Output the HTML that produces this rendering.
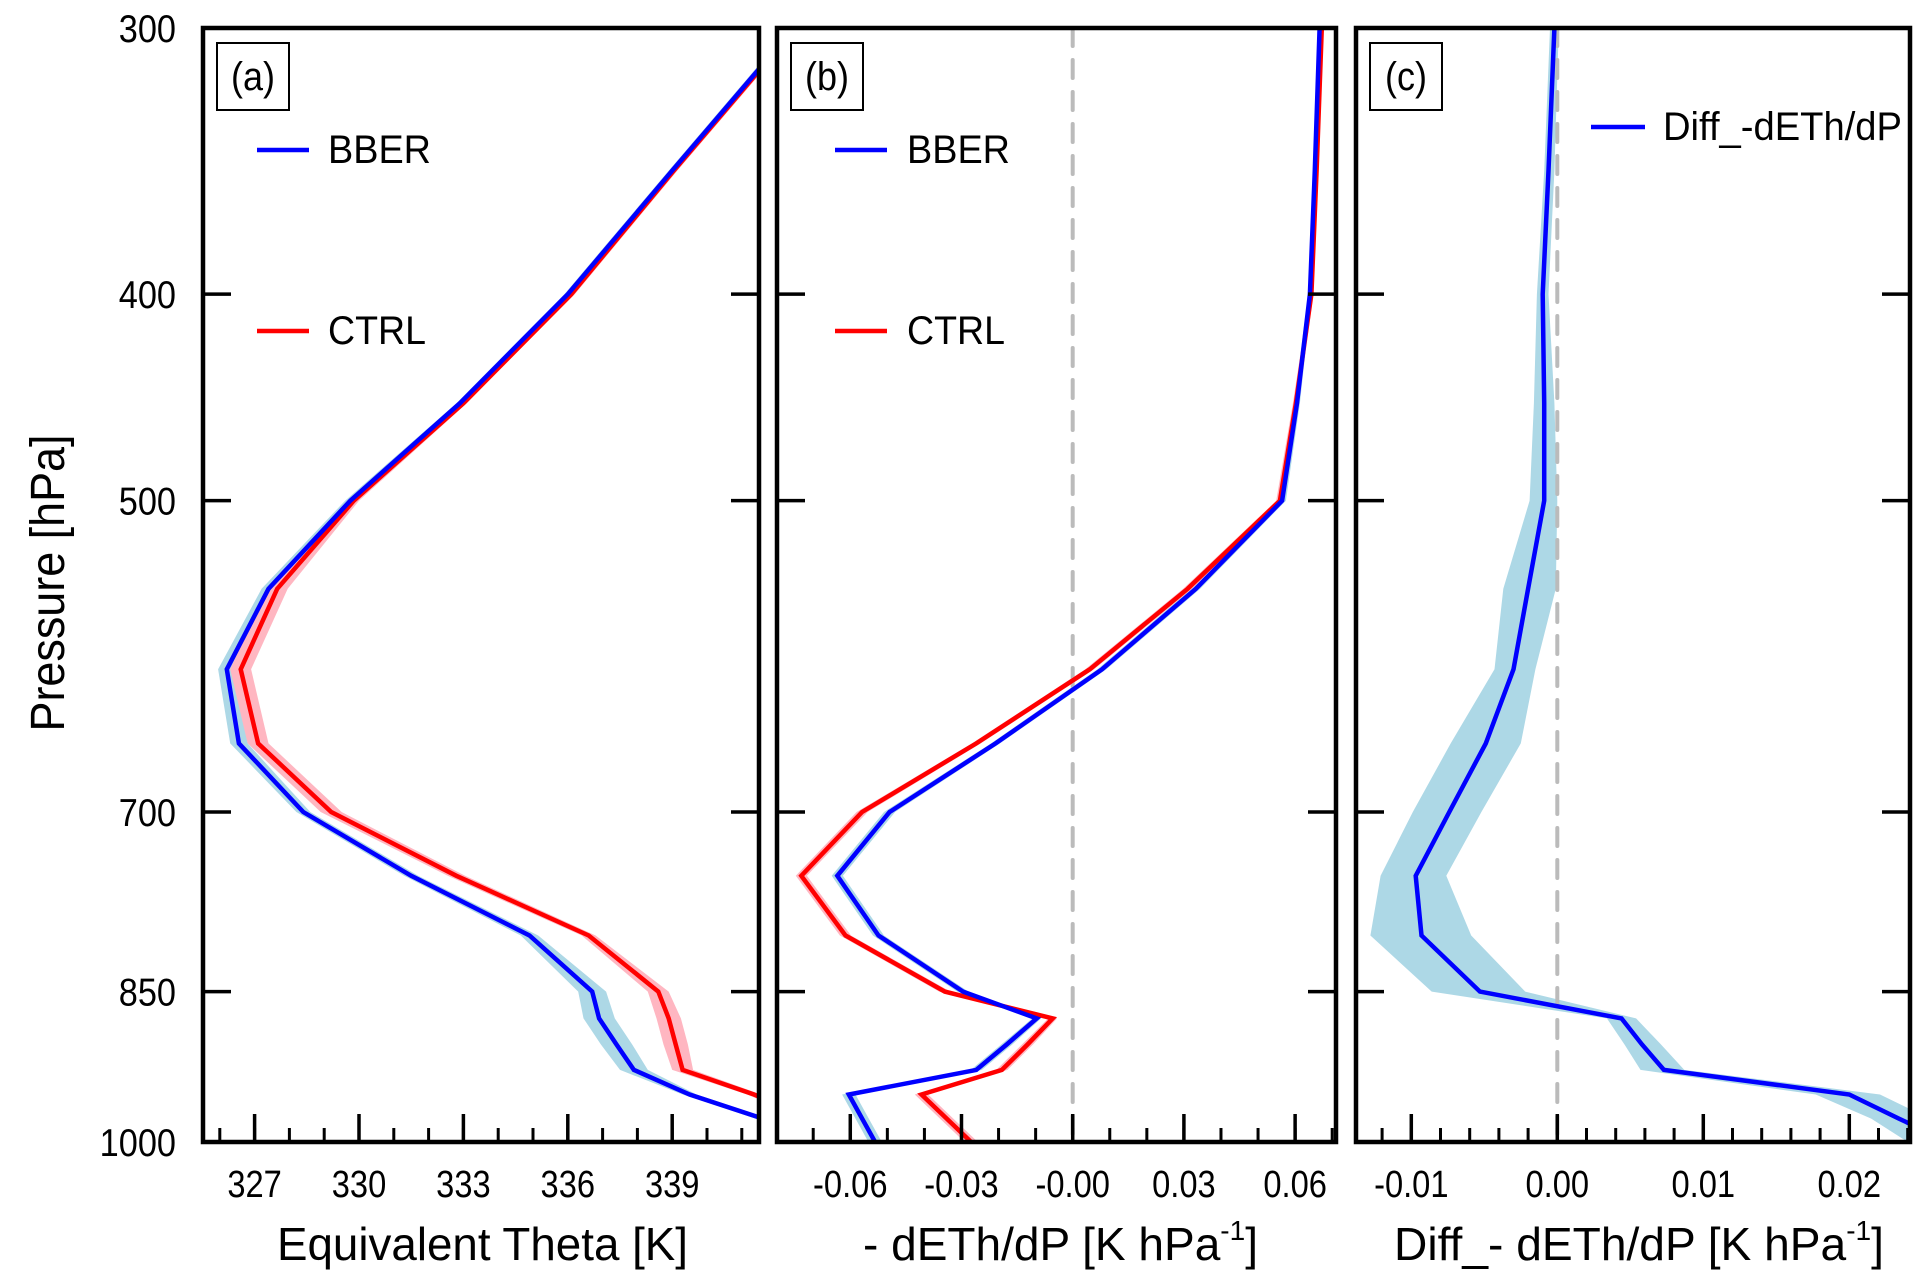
<!DOCTYPE html>
<html><head><meta charset="utf-8">
<style>
html,body{margin:0;padding:0;background:#fff;}
svg{display:block;font-family:"Liberation Sans",Arial,sans-serif;}
</style></head>
<body>
<svg id="fig" xmlns="http://www.w3.org/2000/svg" width="1931" height="1287" viewBox="0 0 1931 1287">
<rect width="1931" height="1287" fill="#fff"/>
</svg>
<script>
// ---- data ----
const levels = [300,350,400,450,500,550,600,650,700,750,800,850,875,900,925,950,975,1000];
const pTicks = [300,400,500,700,850,1000];

const bberTheta = [342.5,339.0,336.0,332.9,329.75,327.4,326.2,326.55,328.4,331.5,334.9,336.7,336.9,337.4,337.9,339.5,341.6,343.6];
const ctrlTheta = [342.55,339.05,336.1,333.0,329.85,327.65,326.6,327.1,329.2,332.8,336.6,338.6,338.9,339.1,339.3,341.35,343.0,344.6];
const bberThetaSpread = [0.1,0.1,0.1,0.1,0.15,0.2,0.25,0.25,0.2,0.2,0.25,0.4,0.45,0.45,0.4,0.2,0.2,0.2];
const ctrlThetaSpread = [0.1,0.1,0.1,0.1,0.15,0.3,0.3,0.3,0.3,0.25,0.2,0.3,0.35,0.35,0.3,0.2,0.2,0.2];
const thetaTicks = [327,330,333,336,339];

const bberGrad = [0.0666,0.0653,0.064,0.0605,0.0565,0.0332,0.0079,-0.0208,-0.0494,-0.0635,-0.0524,-0.0296,-0.0097,-0.0178,-0.026,-0.0604,-0.0568,-0.0533];
const ctrlGrad = [0.0672,0.0658,0.0644,0.0602,0.0559,0.031,0.0046,-0.026,-0.0568,-0.0732,-0.0613,-0.0345,-0.0054,-0.0122,-0.0191,-0.0408,-0.034,-0.0274];
const gradSpread = [0.0005,0.0005,0.0005,0.0008,0.001,0.0012,0.0012,0.0012,0.0015,0.0015,0.0015,0.0015,0.0012,0.0015,0.0015,0.0018,0.0018,0.0018];
const gradTicks = [-0.06,-0.03,0.0,0.03,0.06];
const gradTickLabels = ["-0.06","-0.03","-0.00","0.03","0.06"];

const diffGrad = [-0.0002,-0.0006,-0.001,-0.0009,-0.0009,-0.002,-0.003,-0.0049,-0.0074,-0.0097,-0.0093,-0.0053,0.0044,0.0058,0.0073,0.02,0.0234,0.0268];
const diffLow  = [-0.0005,-0.0009,-0.0014,-0.0016,-0.0019,-0.0037,-0.0043,-0.0073,-0.0099,-0.0121,-0.0128,-0.0086,0.0034,0.0046,0.0057,0.0177,0.0215,0.024];
const diffHigh = [0.0001,-0.0002,-0.0006,-0.0002,0.0,-0.0001,-0.0015,-0.0025,-0.0052,-0.0076,-0.0059,-0.0022,0.0054,0.0071,0.0087,0.0221,0.0255,0.0285];
const diffTicks = [-0.01,0.0,0.01,0.02];
const diffTickLabels = ["-0.01","0.00","0.01","0.02"];

// ---- layout ----
const NS="http://www.w3.org/2000/svg";
const svg=document.getElementById('fig');
const TOP=28, BOT=1142;
const yScale = p => TOP + (BOT-TOP)*Math.log(p/300)/Math.log(1000/300);
function el(tag, attrs, parent){
  const e=document.createElementNS(NS,tag);
  for(const k in attrs) e.setAttribute(k,attrs[k]);
  (parent||svg).appendChild(e); return e;
}
function txt(str,x,y,size,anchor,sx,parent){
  const g=el('g',{transform:`translate(${x},${y}) scale(${sx},1)`},parent);
  const t=el('text',{x:0,y:0,'font-size':size,'text-anchor':anchor,fill:'#000'},g);
  t.textContent=str; return t;
}
const panels=[
  {id:'a',x0:203,x1:759,xs:v=>254.6+(v-327)*34.8},
  {id:'b',x0:777,x1:1336,xs:v=>1072.7+v*3707},
  {id:'c',x0:1356,x1:1910,xs:v=>1557.3+v*14600}
];
panels.forEach(P=>{
  const g=el('g',{});
  
  
  const cp=el('clipPath',{id:'clip'+P.id},g);
  el('rect',{x:P.x0,y:TOP,width:P.x1-P.x0,height:BOT-TOP},cp);
  P.g=g;
  P.plot=el('g',{'clip-path':`url(#clip${P.id})`},g);
  
  
});
function band(P,lo,hi,color,name){
  let d='';
  levels.forEach((p,i)=>{d+=(i?'L':'M')+P.xs(lo[i]).toFixed(1)+','+yScale(p).toFixed(1);});
  for(let i=levels.length-1;i>=0;i--) d+='L'+P.xs(hi[i]).toFixed(1)+','+yScale(levels[i]).toFixed(1);
  const e=el('path',{d:d+'Z',fill:color,stroke:'none'},P.plot);
  
  
}
function line(P,vals,color,name){
  const pts=levels.map((p,i)=>P.xs(vals[i]).toFixed(1)+','+yScale(p).toFixed(1)).join(' ');
  const e=el('polyline',{points:pts,fill:'none',stroke:color,'stroke-width':4.5,'stroke-linejoin':'miter'},P.plot);
  
  
}
function zeroLine(P){
  const x=P.xs(0);
  const e=el('line',{x1:x,x2:x,y1:TOP,y2:BOT,stroke:'#bbbbbb','stroke-width':4,'stroke-dasharray':'18,14','stroke-linecap':'round'},P.plot);
  
  
}
const pa=panels[0],pb=panels[1],pc=panels[2];
band(pa,bberTheta.map((v,i)=>v-bberThetaSpread[i]),bberTheta.map((v,i)=>v+bberThetaSpread[i]),'#add8e6','bber-spread-band');
band(pa,ctrlTheta.map((v,i)=>v-ctrlThetaSpread[i]),ctrlTheta.map((v,i)=>v+ctrlThetaSpread[i]),'#ffb6c1','ctrl-spread-band');
line(pa,ctrlTheta,'#ff0000','ctrl-line');
line(pa,bberTheta,'#0000ff','bber-line');
zeroLine(pb);
band(pb,bberGrad.map((v,i)=>v-gradSpread[i]),bberGrad.map((v,i)=>v+gradSpread[i]),'#add8e6','bber-spread-band');
band(pb,ctrlGrad.map((v,i)=>v-gradSpread[i]),ctrlGrad.map((v,i)=>v+gradSpread[i]),'#ffb6c1','ctrl-spread-band');
line(pb,ctrlGrad,'#ff0000','ctrl-line');
line(pb,bberGrad,'#0000ff','bber-line');
band(pc,diffLow,diffHigh,'#add8e6','diff-spread-band');
zeroLine(pc);
line(pc,diffGrad,'#0000ff','diff-line');

function xTicks(P,major,labels,minorStep,minorFrom,minorTo){
  const g=el('g',{},P.g);
  
  
  for(let v=minorFrom; v<=minorTo+1e-9; v+=minorStep){
    const x=P.xs(v); if(x<P.x0+2||x>P.x1-2) continue;
    el('line',{x1:x,x2:x,y1:BOT,y2:BOT-14,stroke:'#000','stroke-width':3},g);
  }
  major.forEach((v,i)=>{
    const x=P.xs(v);
    el('line',{x1:x,x2:x,y1:BOT,y2:BOT-28,stroke:'#000','stroke-width':3.5},g);
    const t=txt(labels[i],x,1197,38,'middle',0.86,g);
    
    
  });
}
xTicks(pa,thetaTicks,thetaTicks.map(String),1,325,342);
xTicks(pb,gradTicks,gradTickLabels,0.01,-0.08,0.07);
xTicks(pc,diffTicks,diffTickLabels,0.002,-0.014,0.024);
panels.forEach(P=>{
  const g=el('g',{},P.g);
  
  
  pTicks.slice(1,-1).forEach(p=>{
    const y=yScale(p);
    el('line',{x1:P.x0,x2:P.x0+28,y1:y,y2:y,stroke:'#000','stroke-width':3.5},g);
    el('line',{x1:P.x1,x2:P.x1-28,y1:y,y2:y,stroke:'#000','stroke-width':3.5},g);
  });
  const f=el('rect',{x:P.x0,y:TOP,width:P.x1-P.x0,height:BOT-TOP,fill:'none',stroke:'#000','stroke-width':4.5},P.g);
  
  
  const bx=P.x0+14;
  const b=el('rect',{x:bx,y:43,width:72,height:67,fill:'#fff',stroke:'#000','stroke-width':2},P.g);
  
  
  const t=txt('('+P.id+')',bx+36,90,40,'middle',0.9,P.g);
  
  
});
pTicks.forEach(p=>{
  const t=txt(String(p),176,yScale(p)+14,39,'end',0.88);
  
  
});
</script>
<svg style="position:absolute;left:0;top:0" width="1931" height="1287" viewBox="0 0 1931 1287">
  <g font-family="Liberation Sans, Arial, sans-serif" fill="#000">
    <text transform="translate(64,583) rotate(-90)" text-anchor="middle" font-size="48" textLength="297" lengthAdjust="spacingAndGlyphs">Pressure [hPa]</text>
    <text x="277" y="1260" font-size="46" textLength="411" lengthAdjust="spacingAndGlyphs">Equivalent Theta [K]</text>
    <text x="863" y="1260" font-size="46" textLength="395" lengthAdjust="spacingAndGlyphs">- dETh/dP [K hPa<tspan font-size="28" dy="-20">-1</tspan><tspan dy="20">]</tspan></text>
    <text x="1394" y="1260" font-size="46" textLength="490" lengthAdjust="spacingAndGlyphs">Diff_- dETh/dP [K hPa<tspan font-size="28" dy="-20">-1</tspan><tspan dy="20">]</tspan></text>
    <g>
      <line x1="257" x2="309" y1="150" y2="150" stroke="#0000ff" stroke-width="4.5"/>
      <text x="328" y="163" font-size="40" textLength="103" lengthAdjust="spacingAndGlyphs">BBER</text>
      <line x1="257" x2="309" y1="331" y2="331" stroke="#ff0000" stroke-width="4.5"/>
      <text x="328" y="344" font-size="40" textLength="98" lengthAdjust="spacingAndGlyphs">CTRL</text>
    </g>
    <g>
      <line x1="835" x2="887" y1="150" y2="150" stroke="#0000ff" stroke-width="4.5"/>
      <text x="907" y="163" font-size="40" textLength="103" lengthAdjust="spacingAndGlyphs">BBER</text>
      <line x1="835" x2="887" y1="331" y2="331" stroke="#ff0000" stroke-width="4.5"/>
      <text x="907" y="344" font-size="40" textLength="98" lengthAdjust="spacingAndGlyphs">CTRL</text>
    </g>
    <g>
      <line x1="1591" x2="1645" y1="127" y2="127" stroke="#0000ff" stroke-width="4.5"/>
      <text x="1663" y="140" font-size="40" textLength="239" lengthAdjust="spacingAndGlyphs">Diff_-dETh/dP</text>
    </g>
  </g>
</svg>
</body></html>
